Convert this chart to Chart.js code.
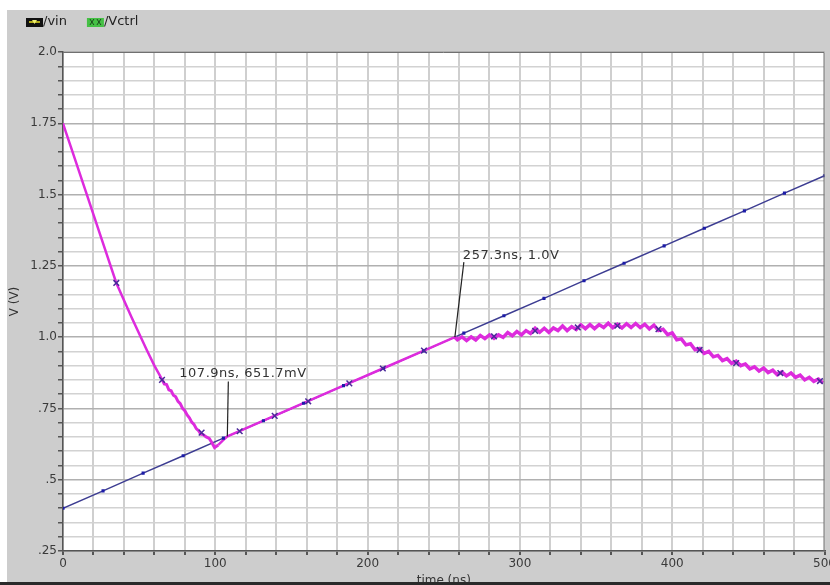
<!DOCTYPE html>
<html>
<head>
<meta charset="utf-8">
<script src="https://cdn.jsdelivr.net/npm/chart.js@4.4.1/dist/chart.umd.min.js"></script>
<style>
  html, body { margin: 0; padding: 0; background: #fff; }
  #wrap { width: 830px; height: 585px; position: relative; }
</style>
</head>
<body>
<div id="wrap"><canvas id="waveChart"></canvas></div>
<script>
// /vin ramp, read at its marker dots
const vinTime = [0, 26.3, 52.6, 78.9, 105.3, 131.6, 157.9, 184.2, 210.5, 236.8,
                 263.2, 289.5, 315.8, 342.1, 368.4, 394.7, 421.1, 447.4, 473.7, 500];
const vinVolt = [0.400, 0.461, 0.523, 0.584, 0.646, 0.707, 0.768, 0.830, 0.891, 0.952,
                 1.014, 1.075, 1.136, 1.198, 1.259, 1.320, 1.382, 1.443, 1.505, 1.566];

// /Vctrl waveform
const ctrlTime = [0, 1.5, 5, 15, 25, 35, 45, 55, 60, 65, 66.5, 68, 69.5, 71, 72.5, 74, 75.5, 77, 78.5, 80,
                  81.5, 83, 84.5, 86, 87.5, 89, 90.5, 92, 94, 96, 97.5, 99.5, 102, 105, 108,
                  120, 150, 180, 210, 240, 257.3,
                  259, 262, 265, 268, 271, 274, 277, 280, 283, 286, 289, 292, 295, 298, 301, 304, 307, 310,
                  313, 316, 319, 322, 325, 328, 331, 334, 337, 340, 343, 346, 349, 352, 355, 358, 361, 364,
                  367, 370, 373, 376, 379, 382, 385, 388, 391, 394, 397, 400, 403, 406, 409, 412, 415, 418,
                  421, 424, 427, 430, 433, 436, 439, 442, 445, 448, 451, 454, 457, 460, 463, 466, 469, 472,
                  475, 478, 481, 484, 487, 490, 493, 496, 499];
const ctrlVolt = [1.75, 1.725, 1.67, 1.51, 1.35, 1.19, 1.07, 0.955, 0.9, 0.852, 0.836, 0.834, 0.815, 0.812, 0.796, 0.791, 0.775, 0.767, 0.75, 0.742,
                  0.727, 0.717, 0.702, 0.694, 0.679, 0.672, 0.66, 0.658, 0.65, 0.645, 0.632, 0.613, 0.622, 0.638, 0.652,
                  0.68, 0.75, 0.82, 0.89, 0.96, 1.0,
                  0.991, 1.001, 0.988, 1.001, 0.990, 1.006, 0.995, 1.008, 0.996, 1.008, 0.999, 1.016, 1.005, 1.020, 1.008, 1.023, 1.013, 1.031,
                  1.017, 1.031, 1.017, 1.032, 1.023, 1.039, 1.023, 1.037, 1.027, 1.043, 1.030, 1.044, 1.030, 1.044, 1.034, 1.049, 1.033, 1.045,
                  1.032, 1.047, 1.034, 1.048, 1.034, 1.045, 1.029, 1.042, 1.023, 1.028, 1.009, 1.015, 0.991, 0.994, 0.973, 0.977, 0.956, 0.960,
                  0.943, 0.950, 0.931, 0.936, 0.918, 0.925, 0.908, 0.916, 0.900, 0.906, 0.889, 0.896, 0.881, 0.892, 0.876, 0.884, 0.868, 0.878,
                  0.864, 0.874, 0.859, 0.867, 0.850, 0.859, 0.845, 0.853, 0.839];

// /Vctrl "x" markers
const ctrlMarkTime = [35, 65, 91, 116, 139, 161, 188, 210, 237, 283, 310, 338, 364, 391, 418, 442, 471, 497];
const ctrlMarkVolt = [1.19, 0.85, 0.665, 0.67, 0.724, 0.775, 0.838, 0.89, 0.953, 1.003, 1.022, 1.034, 1.04, 1.028, 0.955, 0.909, 0.874, 0.846];

// axis ticks
const xTickValues = [0, 100, 200, 300, 400, 500];
const yTickValues = [0.25, 0.5, 0.75, 1.0, 1.25, 1.5, 1.75, 2.0];
const yTickLabels = ['.25', '.5', '.75', '1.0', '1.25', '1.5', '1.75', '2.0'];

// cursor readouts
const noteTime = [107.9, 257.3];
const noteVolt = [0.6517, 1.0];
const noteText = ['107.9ns, 651.7mV', '257.3ns, 1.0V'];

const pts = (xs, ys) => xs.map((x, i) => ({ x: x, y: ys[i] }));
const near = (v, list) => list.findIndex(t => Math.abs(t - v) < 1e-6);

const noteOffsets = [
    { lx: 1, ly: -55, tx: -48, ty: -63 },
    { lx: 9, ly: -75, tx: 8, ty: -82 }
];

function drawVinIcon(ctx, x, y) {
    ctx.fillStyle = '#111';
    ctx.fillRect(x, y - 4, 17, 9);
    ctx.strokeStyle = '#e8e020';
    ctx.lineWidth = 1.5;
    ctx.beginPath(); ctx.moveTo(x + 3, y); ctx.lineTo(x + 14, y); ctx.stroke();
    ctx.fillStyle = '#f0f070';
    ctx.beginPath(); ctx.moveTo(x + 6, y - 2); ctx.lineTo(x + 11, y - 2); ctx.lineTo(x + 8.5, y + 2); ctx.fill();
}
function drawCtrlIcon(ctx, x, y) {
    ctx.fillStyle = '#45c045';
    ctx.fillRect(x, y - 4, 17, 9);
    ctx.strokeStyle = '#1d4a1d';
    ctx.lineWidth = 1;
    ctx.beginPath();
    ctx.moveTo(x + 3, y - 3); ctx.lineTo(x + 7, y + 3);
    ctx.moveTo(x + 7, y - 3); ctx.lineTo(x + 3, y + 3);
    ctx.moveTo(x + 10, y - 3); ctx.lineTo(x + 14, y + 3);
    ctx.moveTo(x + 14, y - 3); ctx.lineTo(x + 10, y + 3);
    ctx.stroke();
}

const scopeLook = {
    id: 'scopeLook',
    beforeDraw(chart) {
        const { ctx, width, height, chartArea: a } = chart;
        ctx.save();
        ctx.fillStyle = '#ffffff';
        ctx.fillRect(0, 0, width, height);
        ctx.fillStyle = '#cdcdcd';
        ctx.fillRect(7, 10, width - 7, height - 10);
        ctx.fillStyle = '#ffffff';
        ctx.fillRect(a.left, a.top, a.right - a.left, a.bottom - a.top);
        ctx.restore();
    },
    afterDatasetsDraw(chart) {
        const { ctx, scales: { x, y } } = chart;
        ctx.save();
        noteText.forEach((txt, i) => {
            const px = x.getPixelForValue(noteTime[i]);
            const py = y.getPixelForValue(noteVolt[i]);
            const o = noteOffsets[i];
            ctx.strokeStyle = '#222';
            ctx.lineWidth = 1.2;
            ctx.beginPath(); ctx.moveTo(px, py); ctx.lineTo(px + o.lx, py + o.ly); ctx.stroke();
            ctx.fillStyle = '#333';
            ctx.font = '13px "DejaVu Sans"';
            ctx.letterSpacing = '0.5px';
            ctx.textBaseline = 'middle';
            ctx.fillText(txt, px + o.tx, py + o.ty);
        });
        ctx.restore();
    },
    afterDraw(chart) {
        const { ctx, width, height, chartArea: a } = chart;
        ctx.save();
        ctx.strokeStyle = '#707070';
        ctx.lineWidth = 1;
        ctx.beginPath();
        ctx.moveTo(a.left, a.top + 0.5); ctx.lineTo(a.right - 0.5, a.top + 0.5); ctx.lineTo(a.right - 0.5, a.bottom);
        ctx.stroke();
        // legend
        const icons = [drawVinIcon, drawCtrlIcon];
        const names = chart.data.datasets.filter(d => d.inLegend).map(d => d.label);
        ctx.font = '13px "DejaVu Sans"';
        ctx.textBaseline = 'middle';
        let lx = 26;
        names.forEach((n, i) => {
            icons[i](ctx, lx, 22);
            ctx.fillStyle = '#222';
            ctx.fillText(n, lx + 17, 22);
            lx += 17 + ctx.measureText(n).width + 20;
        });
        ctx.fillStyle = '#2a2a2a';
        ctx.fillRect(0, height - 3, width, 3);
        ctx.restore();
    }
};

const ctx = document.getElementById('waveChart').getContext('2d');
new Chart(ctx, {
    type: 'line',
    data: {
        datasets: [
            {
                label: '/vin',
                inLegend: true,
                data: pts(vinTime, vinVolt),
                borderColor: '#3d3d92',
                borderWidth: 1.5,
                pointRadius: 0,
                order: 3
            },
            {
                label: '/Vctrl',
                inLegend: true,
                data: pts(ctrlTime, ctrlVolt),
                borderColor: '#dd2bdd',
                borderWidth: 2.5,
                pointRadius: 0,
                tension: 0,
                segment: {
                    borderWidth: s => s.p0.parsed.x >= 257 ? 3.5 : (s.p0.parsed.x >= 64 && s.p0.parsed.x < 100 ? 3 : 2.5)
                },
                order: 2
            },
            {
                label: '/vin dots',
                data: pts(vinTime, vinVolt),
                showLine: false,
                pointStyle: 'rect',
                pointRadius: 2.2,
                backgroundColor: '#1c1ca8',
                borderWidth: 0,
                order: 1
            },
            {
                label: '/Vctrl x',
                data: pts(ctrlMarkTime, ctrlMarkVolt),
                showLine: false,
                pointStyle: 'crossRot',
                pointRadius: 4,
                borderColor: '#4a2a9a',
                borderWidth: 1.5,
                order: 0
            }
        ]
    },
    options: {
        responsive: true,
        maintainAspectRatio: false,
        animation: false,
        layout: { padding: { top: 52, left: 0, right: 2, bottom: 0 } },
        scales: {
            x: {
                type: 'linear',
                min: 0,
                max: 500,
                afterFit(scale) { scale.height = 34; scale.paddingLeft = 0; scale.paddingRight = 0; },
                ticks: {
                    stepSize: 20,
                    autoSkip: false,
                    maxRotation: 0,
                    padding: 2,
                    color: '#3a3a3a',
                    font: { family: 'DejaVu Sans', size: 12 },
                    callback: v => near(v, xTickValues) >= 0 ? String(v) : ''
                },
                grid: {
                    color: '#cfcfcf',
                    lineWidth: 2,
                    tickColor: '#555',
                    tickLength: 4
                },
                border: { color: '#555', width: 1.5 },
                title: {
                    display: true,
                    text: 'time (ns)',
                    color: '#333',
                    font: { family: 'DejaVu Sans', size: 12 },
                    padding: { top: 0, bottom: -3 }
                }
            },
            y: {
                min: 0.25,
                max: 2.0,
                afterFit(scale) { scale.width = 63; scale.paddingTop = 0; scale.paddingBottom = 0; },
                ticks: {
                    stepSize: 0.05,
                    autoSkip: false,
                    padding: 1,
                    color: '#3a3a3a',
                    font: { family: 'DejaVu Sans', size: 12 },
                    callback: v => { const k = near(v, yTickValues); return k >= 0 ? yTickLabels[k] : ''; }
                },
                grid: {
                    color: c => near(c.tick.value, yTickValues) >= 0 ? '#b0b0b0' : '#d2d2d2',
                    lineWidth: 1.5,
                    tickColor: '#555',
                    tickLength: 5
                },
                border: { color: '#555', width: 1.5 },
                title: {
                    display: true,
                    text: 'V (V)',
                    color: '#333',
                    font: { family: 'DejaVu Sans', size: 12 },
                    padding: { top: 8, bottom: 0 }
                }
            }
        },
        plugins: {
            legend: { display: false },
            tooltip: { enabled: false }
        }
    },
    plugins: [scopeLook]
});
</script>
</body>
</html>
